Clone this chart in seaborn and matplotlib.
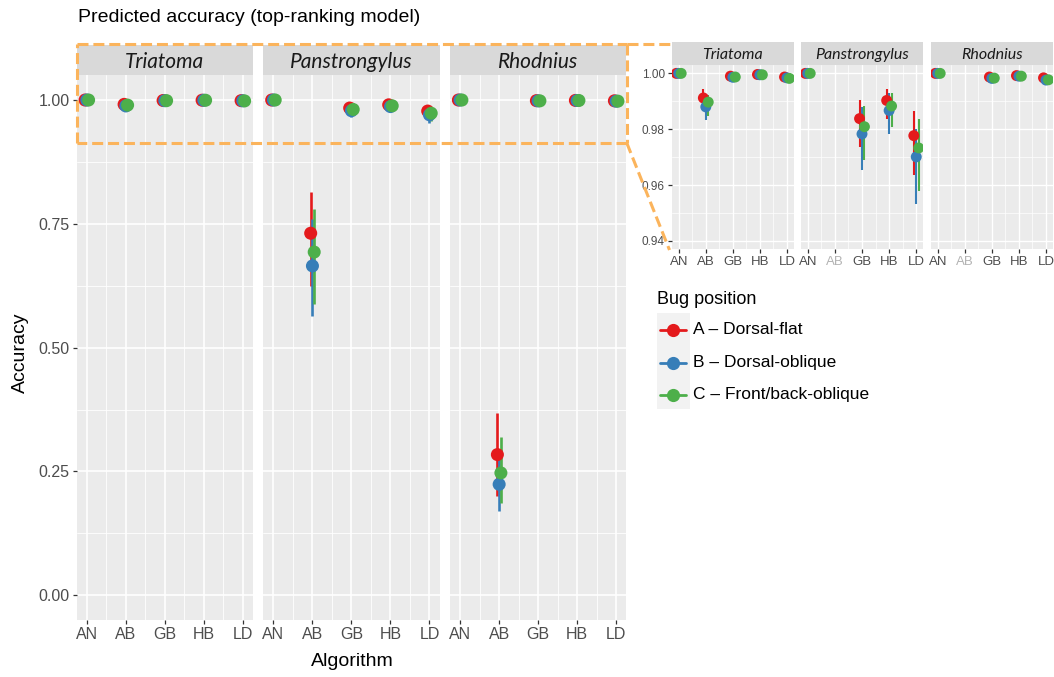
import numpy as np
import pandas as pd
import matplotlib
matplotlib.use("Agg")
import matplotlib.pyplot as plt
import seaborn as sns
from matplotlib.patches import Rectangle
from matplotlib.lines import Line2D

# ---------------- data ----------------
algorithms = ["AN", "AB", "GB", "HB", "LD"]
genera = ["Triatoma", "Panstrongylus", "Rhodnius"]
positions = ["A \u2013 Dorsal-flat", "B \u2013 Dorsal-oblique", "C \u2013 Front/back-oblique"]
colors = ["#E41A1C", "#377EB8", "#4DAF4A"]

# Triatoma
tri_A_acc = [1.000, 0.9912, 0.9990, 0.9996, 0.9987]
tri_A_lo = [0.9995, 0.9880, 0.9982, 0.9992, 0.9978]
tri_A_hi = [1.000, 0.9943, 0.9995, 0.9999, 0.9993]
tri_B_acc = [1.000, 0.9880, 0.9986, 0.9995, 0.9984]
tri_B_lo = [0.9995, 0.9834, 0.9978, 0.9990, 0.9972]
tri_B_hi = [1.000, 0.9915, 0.9993, 0.9999, 0.9992]
tri_C_acc = [1.000, 0.9897, 0.9987, 0.9995, 0.9982]
tri_C_lo = [0.9995, 0.9846, 0.9979, 0.9991, 0.9972]
tri_C_hi = [1.000, 0.9923, 0.9993, 0.9999, 0.9990]
# Panstrongylus
pan_A_acc = [1.000, 0.731, 0.9838, 0.9903, 0.9777]
pan_A_lo = [0.9995, 0.625, 0.9736, 0.9836, 0.9637]
pan_A_hi = [1.000, 0.815, 0.9906, 0.9944, 0.9865]
pan_B_acc = [1.000, 0.665, 0.9783, 0.9867, 0.9701]
pan_B_lo = [0.9995, 0.563, 0.9654, 0.9783, 0.9531]
pan_B_hi = [1.000, 0.760, 0.9880, 0.9930, 0.9800]
pan_C_acc = [1.000, 0.693, 0.9809, 0.9883, 0.9733]
pan_C_lo = [0.9995, 0.589, 0.9689, 0.9807, 0.9578]
pan_C_hi = [1.000, 0.780, 0.9883, 0.9930, 0.9836]
# Rhodnius
rho_A_acc = [1.000, 0.284, 0.9987, 0.9992, 0.9984]
rho_A_lo = [0.9995, 0.200, 0.9978, 0.9986, 0.9974]
rho_A_hi = [1.000, 0.368, 0.9993, 0.9997, 0.9991]
rho_B_acc = [1.000, 0.224, 0.9982, 0.9990, 0.9976]
rho_B_lo = [0.9995, 0.170, 0.9972, 0.9983, 0.9965]
rho_B_hi = [1.000, 0.285, 0.9990, 0.9996, 0.9986]
rho_C_acc = [1.000, 0.247, 0.9983, 0.9990, 0.9977]
rho_C_lo = [0.9995, 0.187, 0.9973, 0.9984, 0.9966]
rho_C_hi = [1.000, 0.320, 0.9990, 0.9996, 0.9986]

main_yticks = [0.00, 0.25, 0.50, 0.75, 1.00]
inset_yticks = [0.94, 0.96, 0.98, 1.00]

series = {
    ("Triatoma", 0): (tri_A_acc, tri_A_lo, tri_A_hi),
    ("Triatoma", 1): (tri_B_acc, tri_B_lo, tri_B_hi),
    ("Triatoma", 2): (tri_C_acc, tri_C_lo, tri_C_hi),
    ("Panstrongylus", 0): (pan_A_acc, pan_A_lo, pan_A_hi),
    ("Panstrongylus", 1): (pan_B_acc, pan_B_lo, pan_B_hi),
    ("Panstrongylus", 2): (pan_C_acc, pan_C_lo, pan_C_hi),
    ("Rhodnius", 0): (rho_A_acc, rho_A_lo, rho_A_hi),
    ("Rhodnius", 1): (rho_B_acc, rho_B_lo, rho_B_hi),
    ("Rhodnius", 2): (rho_C_acc, rho_C_lo, rho_C_hi),
}


def make_df(dodge):
    rows = []
    for (g, p), (acc, lo, hi) in series.items():
        for i, a in enumerate(algorithms):
            rows.append(dict(genus=g, position=positions[p], pidx=p, algorithm=a,
                             x=i + dodge[p], acc=acc[i], lo=lo[i], hi=hi[i]))
    return pd.DataFrame(rows).sort_values(["genus", "pidx"], kind="stable")


df_main = make_df([-0.045, 0.0, 0.045])
df_ins = make_df([-0.09, 0.0, 0.09])

# ---------------- style ----------------
W, H = 1054, 677
sns.set_theme(style="darkgrid")
plt.rcParams['font.family'] = ['Liberation Sans', 'DejaVu Sans']

fig = plt.figure(figsize=(W / 100, H / 100), dpi=100)


def box(x0, y0, x1, y1):
    return [x0 / W, 1 - y1 / H, (x1 - x0) / W, (y1 - y0) / H]


PANEL_BG = "#EBEBEB"
STRIP_BG = "#D9D9D9"
TICK_C = "#4D4D4D"
ORANGE = "#FBB45C"
pal = dict(zip(positions, colors))


def draw_panel(ax, sub, s, lw, ylim, yticks, yminor, show_y, tsize, grid_lw,
               gray_labels=()):
    ax.set_facecolor(PANEL_BG)
    for p in positions:
        d = sub[sub.position == p]
        ax.vlines(d.x, d.lo, d.hi, color=pal[p], lw=lw, zorder=3,
                  capstyle="butt")
    sns.scatterplot(data=sub, x="x", y="acc", hue="position", hue_order=positions,
                    palette=pal, s=s, edgecolor="none", linewidth=0, legend=False,
                    ax=ax, zorder=4)
    ax.set_xlim(-0.26, 4.26)
    ax.set_ylim(*ylim)
    ax.set_xticks(range(len(algorithms)))
    ax.set_xticklabels(algorithms)
    ax.set_xticks([0.5, 1.5, 2.5, 3.5], minor=True)
    ax.set_yticks(yticks)
    ax.set_yticks(yminor, minor=True)
    ax.grid(which="major", color="white", lw=grid_lw)
    ax.grid(which="minor", color="white", lw=grid_lw * 0.5)
    ax.set_axisbelow(True)
    for sp in ax.spines.values():
        sp.set_visible(False)
    ax.tick_params(which="major", length=3, width=0.9, color="#333333",
                   labelcolor=TICK_C, labelsize=tsize, pad=2,
                   bottom=True, left=show_y)
    ax.tick_params(which="minor", length=0)
    if show_y:
        ax.set_yticklabels([f"{v:.2f}" for v in yticks])
    else:
        ax.set_yticklabels([])
    for lab in ax.get_xticklabels():
        if lab.get_text() in gray_labels:
            lab.set_color("#B3B3B3")
    ax.set_xlabel("")
    ax.set_ylabel("")


def draw_strip(x0, y0, x1, y1, text, size):
    sax = fig.add_axes(box(x0, y0, x1, y1))
    sax.set_facecolor(STRIP_BG)
    sax.set_xticks([]); sax.set_yticks([])
    for sp in sax.spines.values():
        sp.set_visible(False)
    sax.text(0.5, 0.45, text, ha="center", va="center", style="italic",
             fontsize=size, color="#1A1A1A", family=["Lato", "DejaVu Sans"],
             transform=sax.transAxes)


# main panels
main_x = [(76.7, 253.0), (263.3, 439.6), (450.0, 626.3)]
main_top, main_bot, main_strip_top = 75.25, 620.0, 45.0
main_axes = []
for k, g in enumerate(genera):
    x0, x1 = main_x[k]
    ax = fig.add_axes(box(x0, main_top, x1, main_bot))
    draw_panel(ax, df_main[df_main.genus == g], s=88, lw=1.9, ylim=(-0.05, 1.05),
               yticks=main_yticks, yminor=[0.125, 0.375, 0.625, 0.875],
               show_y=(k == 0), tsize=11.5, grid_lw=1.2)
    draw_strip(x0, main_strip_top, x1, main_top, g, 15)
    main_axes.append(ax)

# inset panels
ins_x = [(671.7, 794.0), (800.7, 923.3), (930.7, 1053.0)]
ins_top, ins_bot, ins_strip_top = 65.0, 249.3, 41.7
for k, g in enumerate(genera):
    x0, x1 = ins_x[k]
    ax = fig.add_axes(box(x0, ins_top, x1, ins_bot))
    draw_panel(ax, df_ins[df_ins.genus == g], s=62, lw=1.5, ylim=(0.937, 1.003),
               yticks=inset_yticks, yminor=[0.95, 0.97, 0.99],
               show_y=(k == 0), tsize=8.5, grid_lw=1.0,
               gray_labels=(("AB",) if k > 0 else ()))
    ax.tick_params(axis="x", labelsize=9.5)
    draw_strip(x0, ins_strip_top, x1, ins_top, g, 11.5)

# texts
fig.text(78 / W, 1 - 18 / H, "Predicted accuracy (top-ranking model)",
         ha="left", va="center", fontsize=14, color="black")
fig.text(20 / W, 1 - 353 / H, "Accuracy", rotation=90, ha="center",
         va="center", fontsize=14, color="black")
fig.text(352 / W, 1 - 662 / H, "Algorithm", ha="center", va="center",
         fontsize=14, color="black")

# zoom rectangle + connector lines (orange dashed)
ydash = main_axes[0].transData.transform((0, 0.9137))[1]
ybot_px = H - ydash
dash = dict(color=ORANGE, lw=2.2, linestyle=(0, (3.6, 1.6)),
            transform=fig.transFigure, zorder=10)
rx0, rx1, ry0 = 76.7, 626.7, 44.0
for (xa, ya, xb, yb) in [(rx0, ry0, rx1, ry0), (rx1, ry0, rx1, ybot_px),
                         (rx1, ybot_px, rx0, ybot_px), (rx0, ybot_px, rx0, ry0),
                         (rx1, ry0, 671.7, ry0), (rx1, ybot_px, 669.5, 250.0)]:
    fig.add_artist(Line2D([xa / W, xb / W], [1 - ya / H, 1 - yb / H], **dash))

# legend (drawn manually, ggplot style)
fig.text(657 / W, 1 - 299 / H, "Bug position", ha="left", va="center",
         fontsize=13, color="black")
fig.add_artist(Rectangle((657 / W, 1 - 409 / H), 33 / W, 96 / H,
                         facecolor="#F2F2F2", edgecolor="none",
                         transform=fig.transFigure))
for i, (p, c) in enumerate(zip(positions, colors)):
    yc = 1 - (330 + i * 32.5) / H
    fig.add_artist(Line2D([660 / W, 686 / W], [yc, yc], color=c, lw=2.0,
                          transform=fig.transFigure))
    fig.add_artist(Line2D([673 / W], [yc], color=c, marker="o", markersize=9.5,
                          markeredgewidth=0, transform=fig.transFigure))
    fig.text(693 / W, yc, p, ha="left", va="center", fontsize=12.5,
             color="black")

fig.savefig("out.png", dpi=100)
